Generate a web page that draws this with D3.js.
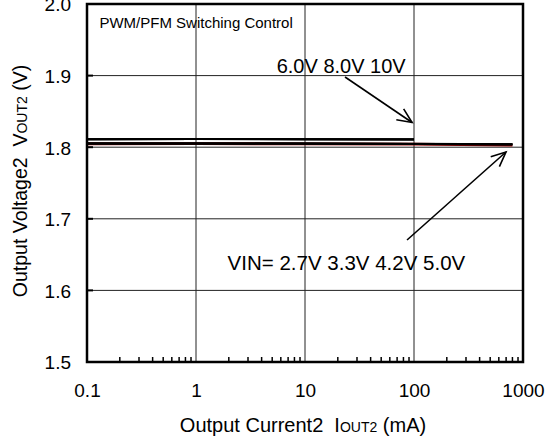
<!DOCTYPE html>
<html><head><meta charset="utf-8">
<script src="https://cdn.jsdelivr.net/npm/d3@7"></script>
<style>
html,body{margin:0;padding:0;background:#fff;}
svg text{font-family:"Liberation Sans",Arial,sans-serif;fill:#000;white-space:pre;}
</style></head>
<body><svg id="c" width="555" height="441"></svg>
<script>
// ---- data ----
const xTicks = [0.1, 1, 10, 100, 1000];
const xTickLabels = ["0.1", "1", "10", "100", "1000"];
const yTicks = [1.5, 1.6, 1.7, 1.8, 1.9, 2.0];
const yTickLabels = ["1.5", "1.6", "1.7", "1.8", "1.9", "2.0"];

const currentsHigh = [0.1, 1, 10, 100];
const vout60 = [1.8110, 1.8114, 1.8110, 1.8108];
const vout80 = [1.8111, 1.8115, 1.8111, 1.8109];
const vout10 = [1.8112, 1.8116, 1.8112, 1.8110];

const currentsLow = [0.1, 1, 10, 100, 800];
const vout27 = [1.8052, 1.8053, 1.8051, 1.8047, 1.8040];
const vout33 = [1.8051, 1.8052, 1.8050, 1.8046, 1.8040];
const vout42 = [1.8050, 1.8051, 1.8049, 1.8045, 1.8039];
const vout50 = [1.8048, 1.8049, 1.8047, 1.8042, 1.8030];

const titleText = "PWM/PFM Switching Control";
const highLabel = "6.0V 8.0V 10V";
const lowLabel = "VIN= 2.7V 3.3V 4.2V 5.0V";

// ---- layout ----
const svg = d3.select("#c");
const L = 87, R = 523, T = 4, B = 362;
const x = d3.scaleLog().domain([0.1, 1000]).range([L, R]);
const y = d3.scaleLinear().domain([1.5, 2.0]).range([B, T]);

const g = svg.append("g");

// gridlines
g.selectAll(".vg").data(xTicks.slice(1, -1)).enter().append("line")
  .attr("x1", d => x(d)).attr("x2", d => x(d)).attr("y1", T).attr("y2", B)
  .attr("stroke", "#222").attr("stroke-width", 1);
g.selectAll(".hg").data(yTicks.slice(1, -1)).enter().append("line")
  .attr("x1", L).attr("x2", R).attr("y1", d => y(d)).attr("y2", d => y(d))
  .attr("stroke", "#222").attr("stroke-width", 1);

// minor ticks bottom (inward)
const minor = [];
for (let e = -1; e < 3; e++) for (let m = 2; m <= 9; m++) minor.push(m * Math.pow(10, e));
g.selectAll(".mt").data(minor).enter().append("line")
  .attr("x1", d => x(d)).attr("x2", d => x(d)).attr("y1", B).attr("y2", B - 5)
  .attr("stroke", "#000").attr("stroke-width", 1.5);
// major ticks left (inward)
g.selectAll(".yt").data(yTicks.slice(1, -1)).enter().append("line")
  .attr("x1", L).attr("x2", L + 6).attr("y1", d => y(d)).attr("y2", d => y(d))
  .attr("stroke", "#000").attr("stroke-width", 2);

// data lines
const line = xs => d3.line().x((d, i) => x(xs[i])).y(d => y(d));
const lowSeries = [{v: vout50, c: "#a00000"}, {v: vout27, c: "#000"}, {v: vout33, c: "#000"}, {v: vout42, c: "#000"}];
lowSeries.forEach(s => g.append("path").attr("d", line(currentsLow)(s.v))
  .attr("fill", "none").attr("stroke", s.c).attr("stroke-width", s.c === "#000" ? 2 : 2.8));
[vout60, vout80, vout10].forEach(v => g.append("path").attr("d", line(currentsHigh)(v))
  .attr("fill", "none").attr("stroke", "#000").attr("stroke-width", 2));

// frame
g.append("rect").attr("x", L).attr("y", T).attr("width", R - L).attr("height", B - T)
  .attr("fill", "none").attr("stroke", "#000").attr("stroke-width", 2.5);

// axes labels via d3 axes
const xAxis = d3.axisBottom(x).tickValues(xTicks).tickFormat((d, i) => xTickLabels[i]).tickSize(0).tickPadding(0);
const xa = svg.append("g").attr("transform", `translate(0,${B})`).call(xAxis);
xa.select(".domain").remove();
xa.selectAll("text").attr("font-size", 19).attr("y", 35).attr("dy", 0)
  .style("font-family", "'Liberation Sans',Arial,sans-serif");

const yAxis = d3.axisLeft(y).tickValues(yTicks).tickFormat((d, i) => yTickLabels[i]).tickSize(0).tickPadding(0);
const ya = svg.append("g").attr("transform", `translate(${L},0)`).call(yAxis);
ya.select(".domain").remove();
ya.selectAll("text").attr("font-size", 19).attr("x", -16).attr("dy", "0.36em")
  .style("font-family", "'Liberation Sans',Arial,sans-serif");

// annotations
svg.append("text").attr("x", x(0.13)).attr("y", 28).attr("font-size", 15).text(titleText);
svg.append("text").attr("x", x(5.5)).attr("y", y(1.9036)).attr("font-size", 20).text(highLabel);
svg.append("text").attr("x", x(1.95)).attr("y", y(1.6285)).attr("font-size", 20.5).text(lowLabel);

function arrow(x0, y0, x1, y1) {
  const px0 = x(x0), py0 = y(y0), px1 = x(x1), py1 = y(y1);
  const a = Math.atan2(py1 - py0, px1 - px0), h = 16, w = 0.42;
  svg.append("line").attr("x1", px0).attr("y1", py0).attr("x2", px1).attr("y2", py1)
    .attr("stroke", "#000").attr("stroke-width", 1.6);
  svg.append("path").attr("d", `M${px1 - h * Math.cos(a - w)},${py1 - h * Math.sin(a - w)}L${px1},${py1}L${px1 - h * Math.cos(a + w)},${py1 - h * Math.sin(a + w)}`)
    .attr("fill", "none").attr("stroke", "#000").attr("stroke-width", 1.6);
}
arrow(23.3, 1.898, 96, 1.8345);
arrow(86.3, 1.6704, 698, 1.7933);

// axis titles
const xt = svg.append("text").attr("x", (L + R) / 2 - 2).attr("y", 432).attr("text-anchor", "middle").attr("font-size", 20);
xt.append("tspan").text("Output Current2  I");
xt.append("tspan").attr("font-size", 14).text("OUT2");
xt.append("tspan").text(" (mA)");

const yt = svg.append("text").attr("transform", `translate(27,${181}) rotate(-90)`).attr("text-anchor", "middle").attr("font-size", 19.5);
yt.append("tspan").text("Output Voltage2  V");
yt.append("tspan").attr("font-size", 14).text("OUT2");
yt.append("tspan").text(" (V)");
</script></body></html>
